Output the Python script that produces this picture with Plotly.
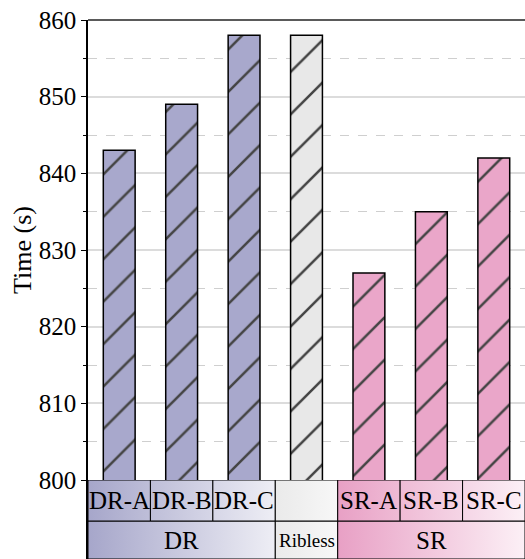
import plotly.graph_objects as go

# ---- data ----
categories = ["DR-A", "DR-B", "DR-C", "Ribless", "SR-A", "SR-B", "SR-C"]
times = [843, 849, 858, 858, 827, 835, 842]
row1_labels = ["DR-A", "DR-B", "DR-C", "", "SR-A", "SR-B", "SR-C"]
groups = ["DR", "Ribless", "SR"]
group_spans = [3, 1, 3]
y_ticks = [800, 810, 820, 830, 840, 850, 860]

# ---- styles ----
bar_colors = {"DR": "#a8a8cc", "Ribless": "#e8e8e8", "SR": "#eaa6c9"}
grad_colors = {"DR": ("#a6a6ca", "#eeeef5"),
               "Ribless": ("#eaeaea", "#f7f7f7"),
               "SR": ("#e8a0c5", "#fcf0f6")}
FONT = "Liberation Serif"

def hex2rgb(h):
    h = h.lstrip("#")
    return tuple(int(h[i:i + 2], 16) for i in (0, 2, 4))

def mix(c0, c1, t):
    a, b = hex2rgb(c0), hex2rgb(c1)
    return "rgb(%d,%d,%d)" % tuple(round(a[i] + (b[i] - a[i]) * t) for i in range(3))

W, H = 525, 559
ML, MT = 88, 20
table_h = 79
plot_h = H - MT
main_bottom = table_h / plot_h

cat_group = []
for g, s in zip(groups, group_spans):
    cat_group += [g] * s

fig = go.Figure()

fig.add_trace(go.Bar(
    x=list(range(len(categories))), y=times, width=0.51,
    marker=dict(color=[bar_colors[g] for g in cat_group],
                line=dict(color="black", width=1.5),
                pattern=dict(shape="/", size=30, solidity=0.085,
                             fgcolor="black", fgopacity=1, fillmode="overlay")),
    base=0, showlegend=False, hoverinfo="skip"))

# ---- table (two rows) ----
row1 = (38, 79)
row2 = (0, 38)
start = 0
for g, s in zip(groups, group_spans):
    c0, c1 = grad_colors[g]
    gx0, gx1 = start - 0.5, start + s - 0.5
    fig.add_trace(go.Scatter(
        x=[gx0, gx1, gx1, gx0, gx0], y=[row2[0], row2[0], row2[1], row2[1], row2[0]],
        xaxis="x", yaxis="y2", mode="lines", fill="toself",
        fillgradient=dict(type="horizontal", colorscale=[[0, c0], [1, c1]]),
        line=dict(color="black", width=1), showlegend=False, hoverinfo="skip"))
    for k in range(s):
        i = start + k
        x0, x1 = i - 0.5, i + 0.5
        t0, t1 = k / s, (k + 1) / s
        fig.add_trace(go.Scatter(
            x=[x0, x1, x1, x0, x0], y=[row1[0], row1[0], row1[1], row1[1], row1[0]],
            xaxis="x", yaxis="y2", mode="lines", fill="toself",
            fillgradient=dict(type="horizontal",
                              colorscale=[[0, mix(c0, c1, t0)], [1, mix(c0, c1, t1)]]),
            line=dict(color="black", width=1), showlegend=False, hoverinfo="skip"))
        if row1_labels[i]:
            fig.add_annotation(x=i, y=(row1[0] + row1[1]) / 2, xref="x", yref="y2",
                               text=row1_labels[i], showarrow=False,
                               font=dict(family=FONT, size=25, color="black"))
    fig.add_annotation(x=(gx0 + gx1) / 2, y=(row2[0] + row2[1]) / 2, xref="x", yref="y2",
                       text=g, showarrow=False,
                       font=dict(family=FONT, size=25 if g != "Ribless" else 19, color="black"))
    start += s

fig.add_shape(type="line", xref="x domain", yref="y domain", x0=0, x1=1, y0=1, y1=1,
              line=dict(color="#5a5a5a", width=2))

fig.update_layout(
    width=W, height=H,
    margin=dict(l=ML, r=0, t=MT, b=0, autoexpand=False),
    paper_bgcolor="white", plot_bgcolor="white",
    font=dict(family=FONT, size=25, color="black"),
    xaxis=dict(range=[-0.5, len(categories) - 0.5], showticklabels=False, ticks="",
               showgrid=False, zeroline=False, showline=False, anchor="y",
               automargin=False),
    yaxis=dict(domain=[main_bottom, 1], range=[800, 860], tickvals=y_ticks,
               ticks="outside", ticklen=5, tickwidth=1.2, tickcolor="black",
               showline=True, linecolor="black", linewidth=1.5, automargin=False,
               showgrid=True, gridcolor="#dcdcdc", gridwidth=1.5, zeroline=False,
               minor=dict(dtick=5, ticks="outside", ticklen=3, tickcolor="black",
                          showgrid=True, gridcolor="#cfcfcf", griddash="dash", gridwidth=1),
               title=dict(text="Time (s)", font=dict(family=FONT, size=26, color="black"),
                          standoff=0),
               tickfont=dict(family=FONT, size=25, color="black")),
    yaxis2=dict(domain=[0, main_bottom], range=[0, table_h], showticklabels=False,
                ticks="", showgrid=False, zeroline=False, automargin=False,
                showline=True, linecolor="black", linewidth=1.5, anchor="x"),
)

fig.write_html("out.html")
